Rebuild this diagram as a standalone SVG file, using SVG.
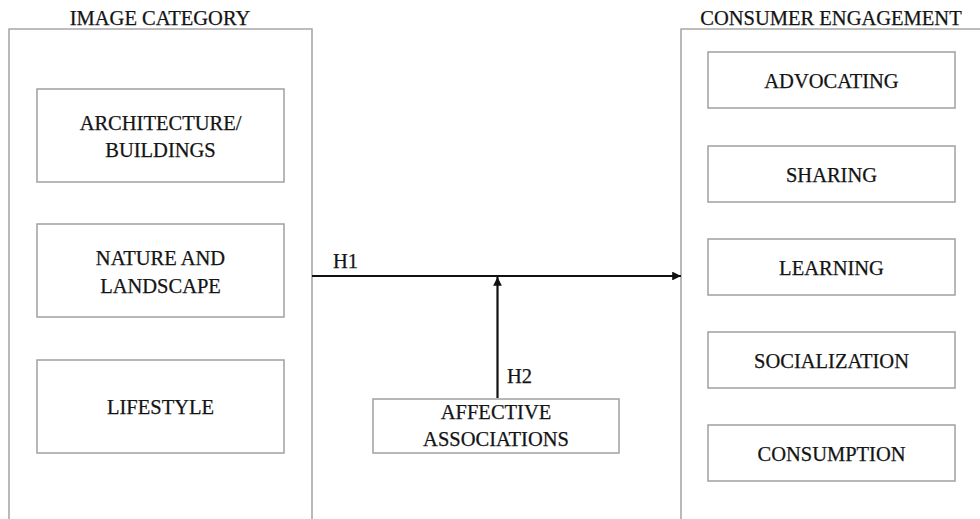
<svg xmlns="http://www.w3.org/2000/svg" width="980" height="519" viewBox="0 0 980 519">
<style>
.outer{fill:none;stroke:#a8a8a8;stroke-width:1.6}
.box{fill:#fff;stroke:#a0a0a0;stroke-width:1.5}
text{font-family:"Liberation Serif","Times New Roman",serif;font-size:20.5px;fill:#141414;stroke:#141414;stroke-width:0.25;text-anchor:middle}
.lbl{text-anchor:start}
.conn{stroke:#111;stroke-width:2.2;fill:none}
</style>
<defs>
<marker id="ah" viewBox="0 0 10 10" refX="10" refY="5" markerWidth="4" markerHeight="4" orient="auto" markerUnits="strokeWidth">
<path d="M0,0 L10,5 L0,10 z" fill="#111"/>
</marker>
</defs>
<rect width="980" height="519" fill="#fff"/>
<g id="image-category">
<path class="outer" d="M9,525 V29 H312 V525"/>
<text x="160" y="25">IMAGE CATEGORY</text>
</g>
<g id="architecture">
<rect class="box" x="37" y="89" width="247" height="93"/>
<text x="160.5" y="130">ARCHITECTURE/</text>
<text x="160.5" y="157">BUILDINGS</text>
</g>
<g id="nature">
<rect class="box" x="37" y="224" width="247" height="93"/>
<text x="160.5" y="265">NATURE AND</text>
<text x="160.5" y="293">LANDSCAPE</text>
</g>
<g id="lifestyle">
<rect class="box" x="37" y="360" width="247" height="93"/>
<text x="160.5" y="414">LIFESTYLE</text>
</g>
<g id="consumer-engagement">
<path class="outer" d="M681,525 V29 H985"/>
<text x="831" y="25">CONSUMER ENGAGEMENT</text>
</g>
<g id="advocating">
<rect class="box" x="708" y="52" width="247" height="56"/>
<text x="831.5" y="88">ADVOCATING</text>
</g>
<g id="sharing">
<rect class="box" x="708" y="146" width="247" height="56"/>
<text x="831.5" y="182">SHARING</text>
</g>
<g id="learning">
<rect class="box" x="708" y="239" width="247" height="56"/>
<text x="831.5" y="275">LEARNING</text>
</g>
<g id="socialization">
<rect class="box" x="708" y="332" width="247" height="56"/>
<text x="831.5" y="368">SOCIALIZATION</text>
</g>
<g id="consumption">
<rect class="box" x="708" y="425" width="247" height="56"/>
<text x="831.5" y="461">CONSUMPTION</text>
</g>
<g id="affective">
<rect class="box" x="373" y="399" width="246" height="54"/>
<text x="496" y="419">AFFECTIVE</text>
<text x="496" y="446">ASSOCIATIONS</text>
</g>
<g id="connectors">
<line class="conn" x1="312" y1="276" x2="681" y2="276" marker-end="url(#ah)"/>
<line class="conn" x1="497.5" y1="398" x2="497.5" y2="277" marker-end="url(#ah)"/>
<text class="lbl" x="333" y="268">H1</text>
<text class="lbl" x="507" y="383">H2</text>
</g>
</svg>
